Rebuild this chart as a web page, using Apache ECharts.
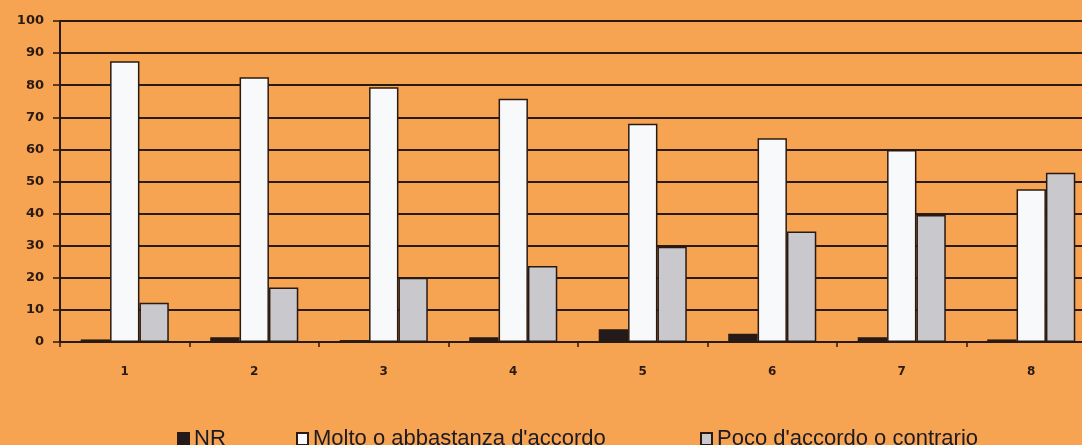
<!DOCTYPE html>
<html>
<head>
<meta charset="utf-8">
<script src="https://cdn.jsdelivr.net/npm/echarts@6/dist/echarts.min.js"></script>
<style>
  html, body { margin: 0; padding: 0; background: #f6a352; }
  #chart { width: 1082px; height: 445px; }
</style>
</head>
<body>
<div id="chart"></div>
<script>
// Survey answers per statement (percent)
const categories = ['1', '2', '3', '4', '5', '6', '7', '8'];
const nrValues = [0.8, 1.5, 0.6, 1.5, 4.0, 2.6, 1.5, 0.8];
const moltoValues = [87.5, 82.5, 79.4, 75.8, 68.0, 63.5, 59.8, 47.6];
const pocoValues = [12.2, 17.0, 20.0, 23.7, 29.7, 34.4, 39.6, 52.7];
const yTicks = { min: 0, max: 100, interval: 10 };

const seriesNames = ['NR', 'Molto o abbastanza d\'accordo', 'Poco d\'accordo o contrario'];
const seriesColors = ['#231a1c', '#f8f9fb', '#c9c8cd'];
const ink = '#2a1a12';

const chart = echarts.init(document.getElementById('chart'), null, { renderer: 'canvas' });

function bar(name, data, color) {
  return {
    name: name,
    type: 'bar',
    data: data,
    barGap: '0%',
    barCategoryGap: '32%',
    itemStyle: { color: color, borderColor: ink, borderWidth: 1.5 },
    emphasis: { disabled: true }
  };
}

function legendAt(left, name) {
  return {
    left: left,
    top: 423,
    data: [name],
    icon: 'rect',
    itemWidth: 11,
    itemHeight: 12,
    selectedMode: false,
    textStyle: { fontFamily: 'Liberation Sans', fontSize: 22, color: '#1c1a24' }
  };
}

chart.setOption({
  backgroundColor: '#f6a352',
  animation: false,
  // the plot area runs past the right edge of the canvas
  grid: {
    left: 60, top: 21, height: 321, width: 1036,
    containLabel: false,
    outerBoundsMode: 'none'
  },
  legend: [
    legendAt(172, seriesNames[0]),
    legendAt(291, seriesNames[1]),
    legendAt(695, seriesNames[2])
  ],
  xAxis: {
    type: 'category',
    data: categories,
    axisLine: { show: true, lineStyle: { color: ink, width: 2 } },
    axisTick: { show: true, length: 5, lineStyle: { color: ink, width: 1.5 } },
    axisLabel: { margin: 24, fontFamily: 'DejaVu Sans', fontWeight: 'bold', fontSize: 12, color: ink }
  },
  yAxis: {
    type: 'value',
    min: yTicks.min,
    max: yTicks.max,
    interval: yTicks.interval,
    axisLine: { show: true, lineStyle: { color: ink, width: 2 } },
    axisTick: { show: true, length: 7, lineStyle: { color: ink, width: 1.5 } },
    axisLabel: { margin: 16, fontFamily: 'DejaVu Sans', fontWeight: 'bold', fontSize: 13, color: ink },
    splitLine: { show: true, lineStyle: { color: ink, width: 2 } }
  },
  series: [
    bar(seriesNames[0], nrValues, seriesColors[0]),
    bar(seriesNames[1], moltoValues, seriesColors[1]),
    bar(seriesNames[2], pocoValues, seriesColors[2])
  ]
});
</script>
</body>
</html>
